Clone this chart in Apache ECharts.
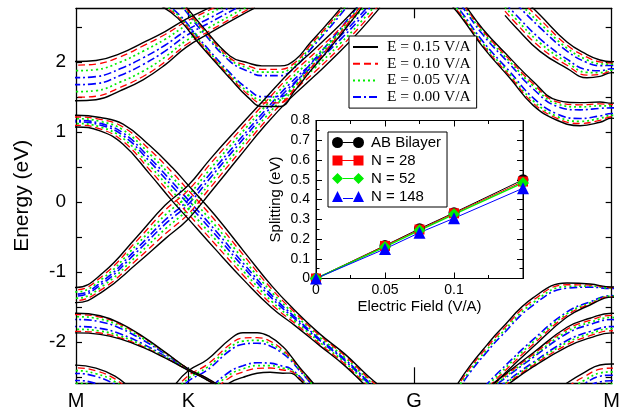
<!DOCTYPE html>
<html><head><meta charset="utf-8">
<script src="https://cdn.jsdelivr.net/npm/echarts@6.0.0/dist/echarts.min.js"></script>
<style>html,body{margin:0;padding:0;background:#fff}#c{width:623px;height:412px}</style>
</head><body><div id="c"></div>
<script>
// ---------- main plot: k-path ticks ----------
const kTicks = [0, 1, 3.01, 4.77];
const kLabels = ['M', 'K', 'G', 'M'];
const energyTicks = [-2.5, -2, -1.5, -1, -0.5, 0, 0.5, 1, 1.5, 2, 2.5];
const energyLabels = [-2, -1, 0, 1, 2];

// ---------- legend names of the four fields ----------
const FIELD_NAMES = ['E = 0.15 V/A', 'E = 0.10 V/A', 'E = 0.05 V/A', 'E = 0.00 V/A'];

// ---------- band ribbons: centre line [k, E(eV), width factor] ----------
const bandUA = [[-0.178,1.743,1],[0,1.729,1],[0.178,1.743,1],[0.392,1.857,0.95],[0.597,2.014,0.95],[0.793,2.2,0.85],[0.98,2.414,0.72],[1.193,2.6,0.65],[1.46,2.829,0.6],[1.594,2.943,0.6]];
const bandR1 = [[-0.214,1.114,0.4],[0,1.157,0.35],[0.214,1.114,0.4],[0.419,0.971,0.6],[0.659,0.6,0.85],[0.864,0.243,1],[1.0,0,1],[1.238,-0.429,1],[1.505,-0.929,0.85],[1.745,-1.357,0.65],[1.95,-1.657,0.45],[2.173,-1.971,0.35],[2.395,-2.257,0.35],[2.6,-2.571,0.35],[2.707,-2.714,0.35]];
const bandR2 = [[-0.24,-1.143,0.55],[0,-1.329,0.45],[0.24,-1.143,0.55],[0.543,-0.686,0.8],[0.793,-0.286,1],[1.0,0,1],[1.193,0.371,1],[1.451,0.857,0.9],[1.683,1.286,0.8],[1.906,1.671,0.8],[2.128,2.0,0.8],[2.351,2.343,0.8],[2.529,2.643,0.8],[2.707,2.971,0.8]];
const bandR3 = [[0.748,2.957,0.5],[0.908,2.771,0.5],[1.104,2.4,0.52],[1.371,1.929,0.55],[1.532,1.743,0.85],[1.656,1.657,1],[1.817,1.657,1],[1.95,1.814,0.75],[2.084,2.071,0.7],[2.217,2.314,0.68],[2.351,2.571,0.66],[2.485,2.843,0.65],[2.547,2.971,0.65]];
const bandL1 = [[-0.214,-1.757,0.95],[0,-1.729,1],[0.214,-1.757,0.95],[0.392,-1.843,0.8],[0.597,-2.0,0.55],[0.793,-2.186,0.3],[1.006,-2.4,0.08],[1.149,-2.514,0.08],[1.327,-2.686,0.08]];
const bandL3 = [[-0.178,-2.543,1],[0,-2.5,1],[0.178,-2.543,1],[0.347,-2.657,1],[0.481,-2.829,1]];
const bandD  = [[0.882,-2.9,1],[1.0,-2.7,1],[1.167,-2.543,1],[1.371,-2.271,1.07],[1.487,-2.186,1.1],[1.612,-2.157,1],[1.728,-2.179,0.875],[1.843,-2.257,0.65],[1.906,-2.314,0.45],[1.995,-2.457,0.3],[2.066,-2.586,0.3],[2.155,-2.757,0.3]];
const bandV1 = [[3.33,2.957,0.76],[3.428,2.771,0.76],[3.624,2.343,0.8],[3.865,1.914,0.9],[4.069,1.557,1.07],[4.283,1.314,0.9],[4.488,1.257,1.03],[4.666,1.286,0.9],[4.77,1.307,0.67],[4.874,1.286,0.9]];
const bandV2 = [[3.82,2.929,1],[3.909,2.771,1],[4.132,2.414,1],[4.372,2.1,0.72],[4.55,1.943,0.64],[4.666,1.914,0.45],[4.77,1.929,0.3],[4.874,1.914,0.45]];
const bandW1 = [[3.375,-2.971,1.05],[3.508,-2.657,1.05],[3.66,-2.371,1.1],[3.776,-2.171,1.14],[4.069,-1.721,1.17],[4.372,-1.4,0.81],[4.577,-1.321,0.5],[4.77,-1.286,0.24],[4.963,-1.321,0.5]];
const bandW2 = [[3.642,-2.757,0.5],[3.776,-2.6,0.6],[4.069,-2.257,0.71],[4.372,-1.929,1],[4.577,-1.8,1],[4.77,-1.729,1],[4.963,-1.8,1]];
const bandW3 = [[4.221,-2.971,1],[4.372,-2.786,1],[4.532,-2.629,1],[4.666,-2.529,1],[4.77,-2.514,1],[4.874,-2.529,1]];

// half splitting (eV) of each ribbon for E = 0.15, 0.10, 0.05, 0.00 V/A
const splitUA = [0.28, 0.23, 0.15, 0.05];
const splitR1 = [0.24, 0.17, 0.10, 0.03];
const splitR2 = [0.24, 0.17, 0.10, 0.03];
const splitR3 = [0.29, 0.24, 0.20, 0.15];
const splitL1 = [0.14, 0.12, 0.09, 0.05];
const splitL3 = [0.17, 0.13, 0.09, 0.05];
const splitD  = [0.29, 0.22, 0.18, 0.14];
const splitV1 = [0.16, 0.13, 0.10, 0.06];
const splitV2 = [0.26, 0.20, 0.14, 0.08];
const splitW1 = [0.30, 0.27, 0.24, 0.21];
const splitW2 = [0.14, 0.11, 0.08, 0.05];
const splitW3 = [0.20, 0.14, 0.086, 0.04];

// ---------- inset: splitting vs field ----------
const fieldX    = [0, 0.05, 0.075, 0.1, 0.15];
const splitAB   = [0, 0.167, 0.252, 0.333, 0.50];
const splitN28  = [0, 0.165, 0.248, 0.330, 0.491];
const splitN52  = [0, 0.160, 0.244, 0.325, 0.484];
const splitN148 = [0, 0.150, 0.232, 0.305, 0.457];
const insetNames = ['AB Bilayer', 'N = 28', 'N = 52', 'N = 148'];

// ---------- styles ----------
const FIELD_STYLES = [
  {color:'#000000', width:1.4, type:'solid'},
  {color:'#ff0000', width:1.3, type:[7,4]},
  {color:'#00ee00', width:1.7, type:[2,3]},
  {color:'#0000ff', width:1.6, type:[8,3,2,3]}
];
const FONT = 'Liberation Sans';

const ribbons = [
  [bandUA, splitUA], [bandR1, splitR1], [bandR2, splitR2], [bandR3, splitR3],
  [bandL1, splitL1], [bandL3, splitL3], [bandD, splitD],
  [bandV1, splitV1], [bandV2, splitV2], [bandW1, splitW1], [bandW2, splitW2], [bandW3, splitW3]
];

const series = [];
// draw E = 0.00 first and E = 0.15 (black) last, so the black edges stay on top
[3, 2, 1, 0].forEach(f => {
  const name = FIELD_NAMES[f];
  ribbons.forEach(([band, split]) => {
    [1, -1].forEach(sign => {
      series.push({
        type: 'line', name: name, xAxisIndex: 0, yAxisIndex: 0,
        data: band.map(p => [p[0], p[1] + sign * split[f] * (p.length > 2 ? p[2] : 1)]),
        smooth: 0.45, symbol: 'none', silent: true, animation: false, z: 2,
        lineStyle: FIELD_STYLES[f]
      });
    });
  });
});

const insetSets = [
  {vals: splitAB,   color:'#000000', symbol:'circle',   size:11, lw:1},
  {vals: splitN28,  color:'#ff0000', symbol:'rect',     size:10, lw:1},
  {vals: splitN52,  color:'#00ee00', symbol:'diamond',  size:12, lw:1.5},
  {vals: splitN148, color:'#0000ff', symbol:'triangle', size:12, lw:1}
];
insetSets.forEach((s, i) => {
  series.push({
    type:'line', name: insetNames[i], xAxisIndex: 2, yAxisIndex: 2,
    data: fieldX.map((x, j) => [x, s.vals[j]]),
    symbol: s.symbol, symbolSize: s.size, showSymbol: true, clip: false,
    itemStyle: {color: s.color}, lineStyle: {color: s.color, width: s.lw},
    silent: true, animation: false, z: 12
  });
});

const icons = [
  'path://M0,5.5A5.5,5.5,0,1,1,11,5.5A5.5,5.5,0,1,1,0,5.5Z M11,5L21,5L21,6L11,6Z M21,5.5A5.5,5.5,0,1,1,32,5.5A5.5,5.5,0,1,1,21,5.5Z',
  'path://M0.5,0.5L10.5,0.5L10.5,10.5L0.5,10.5Z M10.5,5L21.5,5L21.5,6L10.5,6Z M21.5,0.5L31.5,0.5L31.5,10.5L21.5,10.5Z M0,0L0.1,0L0,0.1Z M32,11L31.9,11L32,10.9Z',
  'path://M5.5,0L11,5.5L5.5,11L0,5.5Z M11,5L21,5L21,6L11,6Z M26.5,0L32,5.5L26.5,11L21,5.5Z',
  'path://M5.5,0L11,11L0,11Z M11,7L21,7L21,8L11,8Z M26.5,0L32,11L21,11Z'
];

const nearestLabel = v => {
  let best = 0;
  kTicks.forEach((t, i) => { if (Math.abs(t - v) < Math.abs(kTicks[best] - v)) best = i; });
  return kLabels[best];
};

const tickStyle = {color:'#000', width:1.2};
const option = {
  backgroundColor: '#fff',
  animation: false,
  grid: [
    {left: 76, top: 8.3, width: 535.7, height: 375, show: false},
    {left: 316, top: 120.5, width: 207, height: 158, show: true, backgroundColor: '#fff', borderColor: '#000', borderWidth: 1, z: 10}
  ],
  xAxis: [
    {type:'value', gridIndex:0, min:0, max:4.77, position:'bottom',
     axisLine:{show:true, onZero:false, lineStyle:{color:'#000', width:1.3}},
     axisTick:{show:true, inside:true, length:16, customValues:[1, 3.01], lineStyle:tickStyle},
     axisLabel:{show:true, customValues:kTicks, formatter:nearestLabel, showMinLabel:true, showMaxLabel:true,
                color:'#000', fontFamily:FONT, fontSize:20, margin:8},
     splitLine:{show:false}},
    {type:'value', gridIndex:0, min:0, max:4.77, position:'top',
     axisLine:{show:true, onZero:false, lineStyle:{color:'#000', width:1.3}},
     axisTick:{show:true, inside:true, length:10, customValues:[1, 3.01], lineStyle:tickStyle},
     axisLabel:{show:false}, splitLine:{show:false}},
    {type:'value', gridIndex:1, min:0, max:0.15, interval:0.05, position:'bottom', z:11,
     name:'Electric Field (V/A)', nameLocation:'middle', nameGap:21,
     nameTextStyle:{color:'#000', fontFamily:FONT, fontSize:15},
     axisLine:{show:true, onZero:false, lineStyle:{color:'#000', width:1}},
     axisTick:{show:true, inside:true, length:6, lineStyle:{color:'#000', width:1}},
     minorTick:{show:true, splitNumber:2, length:3.5, lineStyle:{color:'#000', width:1}},
     axisLabel:{customValues:[0, 0.05, 0.1], color:'#000', fontFamily:FONT, fontSize:14, margin:5},
     splitLine:{show:false}, minorSplitLine:{show:false}},
    {type:'value', gridIndex:1, min:0, max:0.15, interval:0.05, position:'top', z:11,
     axisLine:{show:true, onZero:false, lineStyle:{color:'#000', width:1}},
     axisTick:{show:true, inside:true, length:6, lineStyle:{color:'#000', width:1}},
     minorTick:{show:true, splitNumber:2, length:3.5, lineStyle:{color:'#000', width:1}},
     axisLabel:{show:false}, splitLine:{show:false}, minorSplitLine:{show:false}}
  ],
  yAxis: [
    {type:'value', gridIndex:0, min:-2.59, max:2.77, position:'left',
     name:'Energy (eV)', nameLocation:'middle', nameGap:43,
     nameTextStyle:{color:'#000', fontFamily:FONT, fontSize:21},
     axisLine:{show:true, onZero:false, lineStyle:{color:'#000', width:1.3}},
     axisTick:{show:true, inside:true, length:6, customValues:energyTicks, lineStyle:tickStyle},
     axisLabel:{customValues:energyLabels, color:'#000', fontFamily:FONT, fontSize:19, margin:10},
     splitLine:{show:false}},
    {type:'value', gridIndex:0, min:-2.59, max:2.77, position:'right',
     axisLine:{show:true, onZero:false, lineStyle:{color:'#000', width:1.3}},
     axisTick:{show:true, inside:true, length:6, customValues:energyTicks, lineStyle:tickStyle},
     axisLabel:{show:false}, splitLine:{show:false}},
    {type:'value', gridIndex:1, min:0, max:0.8, interval:0.1, position:'left', z:11,
     name:'Splitting (eV)', nameLocation:'middle', nameGap:33,
     nameTextStyle:{color:'#000', fontFamily:FONT, fontSize:15},
     axisLine:{show:true, onZero:false, lineStyle:{color:'#000', width:1}},
     axisTick:{show:true, inside:true, length:6, lineStyle:{color:'#000', width:1}},
     minorTick:{show:true, splitNumber:2, length:3.5, lineStyle:{color:'#000', width:1}},
     axisLabel:{color:'#000', fontFamily:FONT, fontSize:14, margin:6},
     splitLine:{show:false}, minorSplitLine:{show:false}},
    {type:'value', gridIndex:1, min:0, max:0.8, interval:0.1, position:'right', z:11,
     axisLine:{show:true, onZero:false, lineStyle:{color:'#000', width:1}},
     axisTick:{show:true, inside:true, length:6, lineStyle:{color:'#000', width:1}},
     minorTick:{show:true, splitNumber:2, length:3.5, lineStyle:{color:'#000', width:1}},
     axisLabel:{show:false}, splitLine:{show:false}, minorSplitLine:{show:false}}
  ],
  legend: [
    {data: FIELD_NAMES, orient:'vertical', left:349, top:36, z:20, selectedMode:false,
     itemWidth:25, itemHeight:14, itemGap:0.7, padding:[3,6,3,3],
     backgroundColor:'#fff', borderColor:'#000', borderWidth:1, borderRadius:0,
     itemStyle:{opacity:0},
     textStyle:{color:'#000', fontFamily:'Liberation Serif', fontSize:15.5, lineHeight:15, padding:[0,0,0,4]}},
    {data: insetNames.map((n, i) => ({name:n, icon:icons[i]})), orient:'vertical', left:328, top:132, z:20,
     selectedMode:false, itemWidth:32, itemHeight:11, itemGap:3, padding:[3,6,3,4],
     backgroundColor:'#fff', borderColor:'#000', borderWidth:1, borderRadius:0,
     textStyle:{color:'#000', fontFamily:FONT, fontSize:15, lineHeight:15, padding:[0,0,0,2]}}
  ],
  series: series
};
const chart = echarts.init(document.getElementById('c'), null, {renderer:'canvas'});
chart.setOption(option);
</script></body></html>
